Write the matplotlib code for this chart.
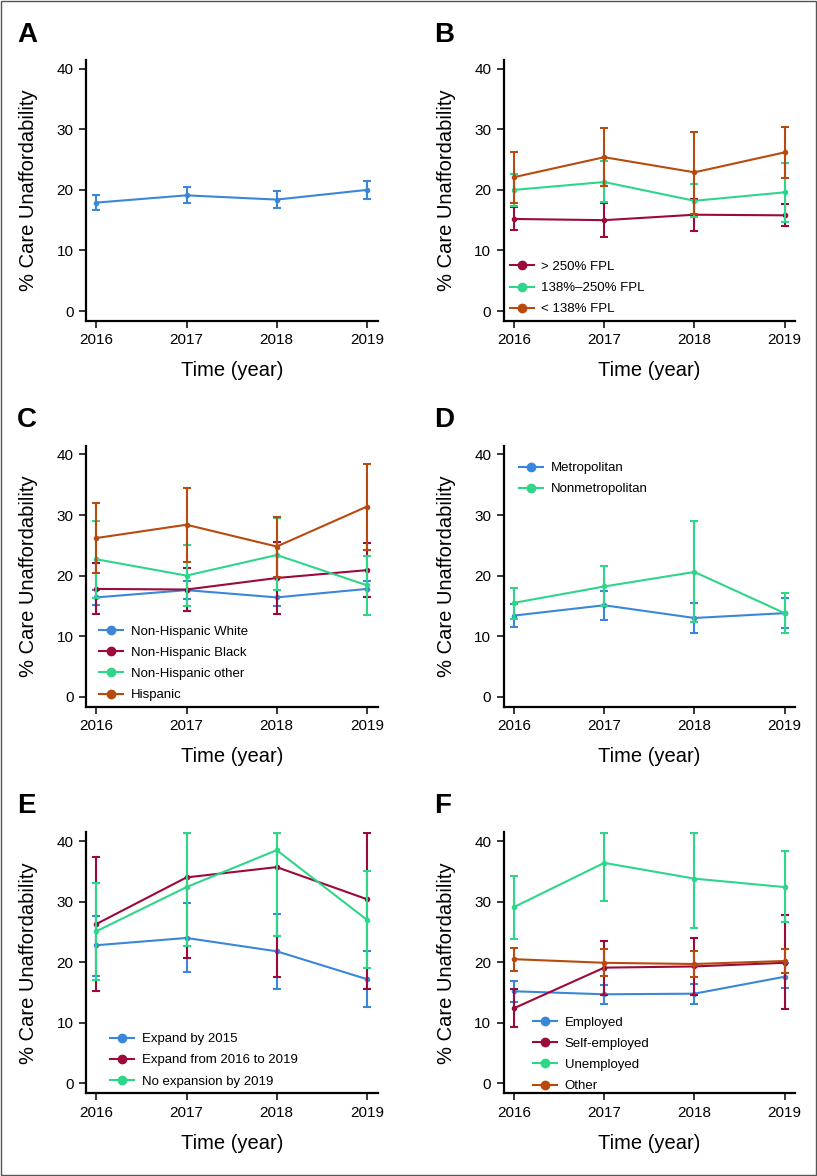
import numpy as np
import matplotlib as mpl
mpl.use('Agg')
import matplotlib.pyplot as plt
from matplotlib.lines import Line2D
from matplotlib.patches import Rectangle

plt.rcParams['font.family'] = ['Liberation Sans', 'DejaVu Sans']

years = [2016, 2017, 2018, 2019]

BLUE = '#3a86d8'
CRIMSON = '#9b0a3a'
GREEN = '#2ed68a'
ORANGE = '#b84a0e'

# panel A: overall
a_mid = [17.9, 19.1, 18.4, 20.0]
a_lo = [16.6, 17.8, 17.0, 18.5]
a_hi = [19.1, 20.5, 19.8, 21.5]

# panel B: income
b_labels = ['> 250% FPL', '138%\u2013250% FPL', '< 138% FPL']
b_mid = [[15.2, 15.0, 15.9, 15.8],
         [20.0, 21.3, 18.2, 19.6],
         [22.1, 25.4, 22.9, 26.2]]
b_lo = [[13.4, 12.2, 13.2, 14.0],
        [17.4, 18.0, 15.6, 14.7],
        [17.8, 20.6, 16.1, 22.0]]
b_hi = [[17.2, 17.8, 18.5, 17.6],
        [22.6, 24.7, 20.9, 24.4],
        [26.2, 30.2, 29.5, 30.4]]

# panel C: race / ethnicity
c_labels = ['Non-Hispanic White', 'Non-Hispanic Black', 'Non-Hispanic other', 'Hispanic']
c_mid = [[16.4, 17.6, 16.4, 17.8],
         [17.8, 17.7, 19.6, 20.9],
         [22.7, 20.0, 23.4, 18.4],
         [26.2, 28.4, 24.8, 31.4]]
c_lo = [[15.1, 16.1, 15.0, 16.5],
        [13.7, 14.2, 13.6, 16.5],
        [16.3, 15.0, 17.7, 13.5],
        [20.4, 22.3, 19.8, 24.3]]
c_hi = [[17.6, 19.1, 17.6, 19.1],
        [22.0, 21.3, 25.6, 25.3],
        [29.0, 25.0, 29.5, 23.3],
        [32.0, 34.5, 29.7, 38.4]]

# panel D: metropolitan status
d_labels = ['Metropolitan', 'Nonmetropolitan']
d_mid = [[13.4, 15.1, 13.0, 13.8],
         [15.5, 18.2, 20.6, 13.8]]
d_lo = [[11.5, 12.7, 10.6, 11.3],
        [12.9, 14.9, 12.3, 10.5]]
d_hi = [[15.3, 17.5, 15.4, 16.3],
        [18.0, 21.6, 29.0, 17.1]]

# panel E: Medicaid expansion
e_labels = ['Expand by 2015', 'Expand from 2016 to 2019', 'No expansion by 2019']
e_mid = [[22.8, 24.0, 21.8, 17.2],
         [26.3, 34.0, 35.7, 30.4],
         [25.1, 32.4, 38.5, 27.0]]
e_lo = [[17.8, 18.3, 15.5, 12.6],
        [15.3, 20.7, 17.5, 15.6],
        [17.1, 22.7, 24.3, 19.0]]
e_hi = [[27.7, 29.7, 28.0, 21.8],
        [37.3, 41.4, 41.4, 41.4],
        [33.1, 41.4, 41.4, 35.0]]

# panel F: employment
f_labels = ['Employed', 'Self-employed', 'Unemployed', 'Other']
f_mid = [[15.2, 14.7, 14.8, 17.6],
         [12.4, 19.1, 19.3, 19.9],
         [29.1, 36.4, 33.8, 32.4],
         [20.5, 19.9, 19.7, 20.2]]
f_lo = [[13.4, 13.1, 13.1, 15.7],
        [9.3, 14.6, 14.6, 12.2],
        [23.9, 30.1, 25.7, 26.6],
        [18.6, 17.7, 17.5, 18.2]]
f_hi = [[16.9, 16.3, 16.4, 19.8],
        [15.6, 23.5, 24.0, 27.8],
        [34.3, 41.4, 41.4, 38.3],
        [22.4, 22.2, 21.8, 22.2]]

panels = [
    ('A', [a_mid], [a_lo], [a_hi], None, [BLUE], None),
    ('B', b_mid, b_lo, b_hi, b_labels, [CRIMSON, GREEN, ORANGE], (0.021, 0.231)),
    ('C', c_mid, c_lo, c_hi, c_labels, [BLUE, CRIMSON, GREEN, ORANGE], (0.045, 0.312)),
    ('D', d_mid, d_lo, d_hi, d_labels, [BLUE, GREEN], (0.053, 0.938)),
    ('E', e_mid, e_lo, e_hi, e_labels, [BLUE, CRIMSON, GREEN], (0.082, 0.231)),
    ('F', f_mid, f_lo, f_hi, f_labels, [BLUE, CRIMSON, GREEN, ORANGE], (0.1005, 0.295)),
]

fig = plt.figure(figsize=(8.17, 11.76), dpi=100)

lefts = [86 / 817, 503.7 / 817]
bottoms = [1 - 321 / 1176, 1 - 706.7 / 1176, 1 - 1093.3 / 1176]
w = 291.5 / 817
h = 261 / 1176
letter_base = [1 - 42 / 1176, 1 - 426.7 / 1176, 1 - 813.3 / 1176]
letter_x = [17 / 817, 434.5 / 817]

for i, (letter, mids, los, his, labels, colors, lpos) in enumerate(panels):
    row, col = divmod(i, 2)
    ax = fig.add_axes([lefts[col], bottoms[row], w, h])
    for k in range(len(mids)):
        mid = np.array(mids[k])
        err = [mid - np.array(los[k]), np.array(his[k]) - mid]
        ax.errorbar(years, mid, yerr=err, color=colors[k], lw=1.5,
                    elinewidth=1.5, capsize=3, capthick=1.5,
                    marker='o', ms=3, zorder=2 + k)

    ax.set_xlim(2015.886, 2019.117)
    ax.set_ylim(-1.65, 41.45)
    ax.set_xticks(years)
    ax.set_yticks([0, 10, 20, 30, 40])
    for s in ('top', 'right'):
        ax.spines[s].set_visible(False)
    for s in ('left', 'bottom'):
        ax.spines[s].set_linewidth(1.6)
    ax.tick_params(length=5, width=1.1, labelsize=11, pad=4)
    ax.set_ylabel('% Care Unaffordability', fontsize=14.5)
    ax.set_xlabel('Time (year)', fontsize=14.5)
    ax.yaxis.set_label_coords(-0.165, 0.5)
    ax.xaxis.set_label_coords(0.5, -0.155)

    if labels:
        handles = [Line2D([], [], color=c, lw=1.5, marker='o', ms=6) for c in colors]
        ax.legend(handles, labels, loc='upper left', bbox_to_anchor=lpos,
                  frameon=False, fontsize=9.5, borderpad=0, borderaxespad=0,
                  handlelength=1.8, handletextpad=0.6, labelspacing=0.68)

    fig.text(letter_x[col], letter_base[row], letter, fontsize=20,
             fontweight='bold', va='baseline')

fig.patches.append(Rectangle((0.001, 0.001), 0.998, 0.998, transform=fig.transFigure,
                             fill=False, ec='#555555', lw=1))

plt.savefig('out.png', dpi=100)
